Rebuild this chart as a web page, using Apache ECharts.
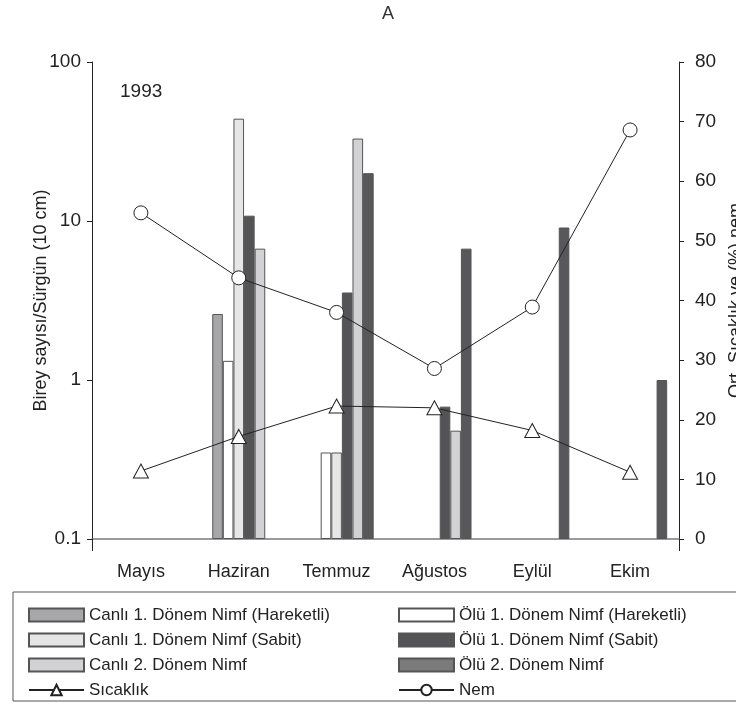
<!DOCTYPE html>
<html>
<head>
<meta charset="utf-8">
<script src="https://cdn.jsdelivr.net/npm/echarts@6/dist/echarts.min.js"></script>
<style>
html, body { margin: 0; padding: 0; background: #fff; }
#box { width: 736px; height: 704px; }
</style>
</head>
<body>
<div id="box"></div>
<script>
// aylar
var months = ['Mayıs', 'Haziran', 'Temmuz', 'Ağustos', 'Eylül', 'Ekim'];
// birey sayısı / sürgün (log eksen)
var canli1Hareketli = [null, 2.6, null, null, null, null];
var olu1Hareketli = [null, 1.32, 0.35, null, null, null];
var canli1Sabit = [null, 44, 0.35, null, null, null];
var olu1Sabit = [null, 10.8, 3.55, 0.68, null, null];
var canli2 = [null, 6.7, 33, 0.48, null, null];
var olu2 = [null, null, 20, 6.7, 9.1, 1.0];
// sağ eksen
var sicaklik = [11.4, 17.2, 22.3, 22.0, 18.2, 11.2];
var nem = [54.7, 43.8, 38.0, 28.6, 38.9, 68.6];
// boş yer tutucu (çubukları biraz sağa kaydırır)
var bos = [null, null, null, null, null, null];

var font = 'Liberation Sans';

function barSeries(name, data, color) {
  return {
    name: name,
    type: 'bar',
    yAxisIndex: 0,
    data: data,
    barWidth: 10.6,
    barGap: '0%',
    itemStyle: {
      color: color,
      borderColor: '#555',
      borderWidth: 1
    }
  };
}

function lineSeries(name, data, symbol, size) {
  return {
    name: name,
    type: 'line',
    yAxisIndex: 1,
    data: data,
    z: 5,
    symbol: symbol,
    symbolSize: size,
    showAllSymbol: true,
    lineStyle: { color: '#222', width: 1 },
    itemStyle: { color: '#fff', borderColor: '#222', borderWidth: 1 }
  };
}

var chart = echarts.init(document.getElementById('box'));
var option = {
  backgroundColor: '#fff',
  animation: false,
  title: [
    {
      text: 'A',
      left: 382,
      top: 5,
      padding: 0,
      textStyle: { fontFamily: font, fontSize: 18, fontWeight: 'normal', color: '#333' }
    },
    {
      text: '1993',
      left: 120,
      top: 82,
      padding: 0,
      textStyle: { fontFamily: font, fontSize: 19, fontWeight: 'normal', color: '#222' }
    }
  ],
  grid: {
    left: 92,
    right: 57,
    top: 62,
    height: 477,
    containLabel: false,
    outerBoundsMode: 'none'
  },
  legend: {
    left: 13,
    top: 592,
    width: 780,
    padding: [13, 10, 1, 15],
    itemGap: 5,
    itemWidth: 55,
    itemHeight: 13,
    borderColor: '#555',
    borderWidth: 1,
    selectedMode: false,
    textStyle: {
      fontFamily: font,
      fontSize: 17,
      color: '#222',
      width: 304,
      lineHeight: 20
    },
    data: [
      { name: 'Canlı 1. Dönem Nimf (Hareketli)', icon: 'rect' },
      { name: 'Ölü 1. Dönem Nimf (Hareketli)', icon: 'rect' },
      { name: 'Canlı 1. Dönem Nimf (Sabit)', icon: 'rect' },
      { name: 'Ölü 1. Dönem Nimf (Sabit)', icon: 'rect' },
      { name: 'Canlı 2. Dönem Nimf', icon: 'rect' },
      { name: 'Ölü 2. Dönem Nimf', icon: 'rect', itemStyle: { color: '#7b7b7b' } },
      { name: 'Sıcaklık' },
      { name: 'Nem' }
    ]
  },
  xAxis: {
    type: 'category',
    data: months,
    boundaryGap: true,
    axisLine: { lineStyle: { color: '#7a7a7a', width: 1.5 } },
    axisTick: {
      show: true,
      length: 12,
      interval: function (i) { return i === 0; },
      lineStyle: { color: '#222' }
    },
    axisLabel: { fontFamily: font, fontSize: 18, color: '#222', margin: 24 }
  },
  yAxis: [
    {
      type: 'log',
      logBase: 10,
      min: 0.1,
      max: 100,
      startValue: 0.1,
      position: 'left',
      name: 'Birey sayısı/Sürgün (10 cm)',
      nameLocation: 'middle',
      nameRotate: 90,
      nameGap: 42,
      nameMoveOverlap: false,
      nameTextStyle: { fontFamily: font, fontSize: 18, color: '#222' },
      axisLine: { show: true, lineStyle: { color: '#222' } },
      axisTick: { show: true, length: 5, lineStyle: { color: '#222' } },
      minorTick: { show: false },
      splitLine: { show: false },
      axisLabel: { fontFamily: font, fontSize: 19, color: '#222', margin: 11 }
    },
    {
      type: 'value',
      min: 0,
      max: 80,
      interval: 10,
      position: 'right',
      name: 'Ort. Sıcaklık ve (%) nem',
      nameLocation: 'middle',
      nameRotate: 90,
      nameGap: 46,
      nameTextStyle: { fontFamily: font, fontSize: 18, color: '#222' },
      axisLine: { show: true, lineStyle: { color: '#222' } },
      axisTick: { show: true, length: 5, lineStyle: { color: '#222' } },
      splitLine: { show: false },
      axisLabel: { fontFamily: font, fontSize: 19, color: '#222', margin: 16 }
    }
  ],
  series: [
    barSeries('', bos, 'transparent'),
    barSeries('Canlı 1. Dönem Nimf (Hareketli)', canli1Hareketli, '#a7a7a9'),
    barSeries('Ölü 1. Dönem Nimf (Hareketli)', olu1Hareketli, '#ffffff'),
    barSeries('Canlı 1. Dönem Nimf (Sabit)', canli1Sabit, '#e6e6e6'),
    barSeries('Ölü 1. Dönem Nimf (Sabit)', olu1Sabit, '#545456'),
    barSeries('Canlı 2. Dönem Nimf', canli2, '#d2d2d4'),
    barSeries('Ölü 2. Dönem Nimf', olu2, '#58585a'),
    lineSeries('Sıcaklık', sicaklik, 'triangle', [15, 14]),
    lineSeries('Nem', nem, 'circle', 14)
  ]
};
chart.setOption(option);
</script>
</body>
</html>
